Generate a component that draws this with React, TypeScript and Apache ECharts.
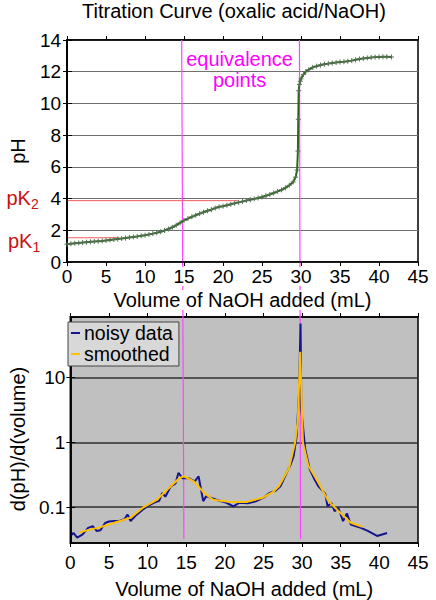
import React, { useEffect, useRef } from "react";
import * as echarts from "echarts";

const FONT = '"Liberation Sans", Arial, Helvetica, sans-serif';

// ---- Titration curve (pH vs volume) ----
const phVolume = [
  0, 0.5, 1, 1.5, 2, 2.5, 3, 3.5, 4, 4.5, 5, 5.5, 6, 6.5, 7, 7.5, 8, 8.5, 9, 9.5,
  10, 10.5, 11, 11.5, 12, 12.5, 13, 13.5, 14, 14.5, 15, 15.5, 16, 16.5, 17, 17.5,
  18, 18.5, 19, 19.5, 20, 20.5, 21, 21.5, 22, 22.5, 23, 23.5, 24, 24.5, 25, 25.5,
  26, 26.5, 27, 27.5, 28, 28.5, 29, 29.3, 29.5, 29.6, 29.65, 29.7, 29.8, 29.9, 30,
  30.3, 30.6, 31, 31.5, 32, 32.5, 33, 33.5, 34, 34.5, 35, 35.5, 36, 36.5, 37, 37.5,
  38, 38.5, 39, 39.5, 40, 40.5, 41, 41.6,
];
const phValues = [
  1.12, 1.15, 1.18, 1.2, 1.23, 1.25, 1.27, 1.29, 1.31, 1.33, 1.36, 1.39, 1.42, 1.45, 1.48, 1.51, 1.55, 1.58, 1.61, 1.65,
  1.69, 1.74, 1.79, 1.85, 1.91, 1.99, 2.08, 2.19, 2.32, 2.47, 2.62, 2.74, 2.85, 2.95, 3.05, 3.14,
  3.23, 3.3, 3.4, 3.48, 3.52, 3.58, 3.64, 3.7, 3.76, 3.82, 3.88, 3.93, 3.98, 4.04, 4.1, 4.18,
  4.26, 4.35, 4.45, 4.55, 4.68, 4.84, 5.05, 5.35, 5.8, 7.0, 9.0, 10.8, 11.2, 11.4, 11.55,
  11.82, 12.0, 12.13, 12.27, 12.35, 12.42, 12.47, 12.51, 12.55, 12.58, 12.61, 12.63, 12.66, 12.7, 12.75, 12.8,
  12.84, 12.87, 12.9, 12.92, 12.93, 12.94, 12.94, 12.93,
];

// pK annotations
const pkNames = ["1", "2"];
const pkValues = [1.53, 3.87];
const pkEnds = [6.7, 21.9];
const pkStart = -2.9;

// equivalence points (mL)
const eqVolumes = [14.7, 29.8];

// ---- Derivative (log scale) ----
const noisyVolume = [
  0, 0.4, 0.9, 1.6, 2.3, 2.9, 3.4, 3.9, 4.5, 5.0, 5.7, 6.4, 7.0, 7.4, 7.8, 8.4, 9.4, 10.2, 10.8, 11.5,
  11.9, 12.3, 13.0, 13.6, 14.0, 14.5, 15.3, 16.1, 16.6, 17.2, 17.6, 18.9, 20.2, 21.1, 21.9, 23.0, 24.0,
  25.0, 25.8, 26.6, 27.2, 28.0, 28.5, 28.9, 29.3, 29.6, 29.8, 29.9, 30.4, 31.0, 31.6, 32.1, 32.7, 33.0,
  33.3, 33.8, 34.2, 34.7, 35.3, 35.8, 36.3, 37.6, 38.5, 39.7, 41.0,
];
const noisyValues = [
  0.036, 0.04, 0.034, 0.038, 0.048, 0.051, 0.043, 0.044, 0.057, 0.06, 0.061, 0.062, 0.065, 0.077, 0.061, 0.073, 0.092, 0.107, 0.117, 0.125,
  0.166, 0.145, 0.21, 0.23, 0.34, 0.28, 0.28, 0.25, 0.3, 0.124, 0.148, 0.13, 0.117, 0.103, 0.117, 0.115, 0.123,
  0.14, 0.166, 0.18, 0.21, 0.34, 0.45, 0.61, 1.28, 5.8, 68, 3.2, 0.79, 0.38, 0.27, 0.21, 0.177, 0.16,
  0.103, 0.116, 0.087, 0.097, 0.061, 0.08, 0.054, 0.048, 0.043, 0.036, 0.04,
];
const smoothVolume = [
  1.2, 2.5, 3.6, 5.7, 7.8, 9.4, 11.2, 13.0, 14.1, 14.7, 16.0, 17.3, 18.5, 20.7, 22.8, 24.9, 26.2, 27.0,
  28.3, 29.1, 29.45, 29.75, 30.1, 30.8, 32.1, 33.4, 34.7, 36.3, 37.8,
];
const smoothValues = [
  0.041, 0.045, 0.048, 0.0575, 0.069, 0.098, 0.13, 0.21, 0.28, 0.3, 0.25, 0.166, 0.13, 0.12, 0.12, 0.14, 0.17, 0.21,
  0.4, 1.0, 2.2, 25, 1.0, 0.44, 0.24, 0.124, 0.087, 0.0575, 0.05,
];

const zip = (xs: number[], ys: number[]) => xs.map((x, i) => [x, ys[i]]);

const labelFont = { fontFamily: FONT, fontSize: 19, color: "#000" };
const nameFont = { fontFamily: FONT, fontSize: 20, color: "#000" };

function xAxis(gridIndex: number, position: string, withLabels: boolean, margin: number, nameGap: number) {
  return {
    type: "value",
    gridIndex,
    position,
    min: 0,
    max: 45,
    interval: 5,
    z: withLabels ? 3 : 0,
    axisLine: { show: true, onZero: false, lineStyle: { color: "#000", width: 1.5 } },
    axisTick: { show: true, inside: false, length: 4, lineStyle: { color: "#000", width: 1 } },
    splitLine: { show: false },
    axisLabel: withLabels
      ? { show: true, margin, ...labelFont, backgroundColor: gridIndex === 0 ? "#fff" : "transparent", padding: [0, 1] }
      : { show: false },
    name: withLabels ? "Volume of NaOH added (mL)" : "",
    nameLocation: "middle",
    nameGap,
    nameTextStyle: { ...nameFont, backgroundColor: gridIndex === 0 ? "#fff" : "transparent", padding: [0, 2] },
  };
}

export default function App() {
  const ref = useRef<HTMLDivElement>(null);
  useEffect(() => {
    if (!ref.current) return;
    const chart = echarts.init(ref.current, null, { renderer: "svg" });

    const option: any = {
      animation: false,
      textStyle: { fontFamily: FONT },
      grid: [
        { left: 65, top: 40, width: 353, height: 222, show: true, backgroundColor: "#fff", borderColor: "#000", borderWidth: 1.5 },
        { left: 65, top: 317, width: 353, height: 227, show: true, backgroundColor: "#c0c0c0", borderColor: "#000", borderWidth: 1.5 },
      ],
      xAxis: [
        xAxis(0, "bottom", true, 5, 28),
        xAxis(0, "top", false, 6, 0),
        xAxis(1, "bottom", true, 10, 36),
        xAxis(1, "top", false, 6, 0),
      ],
      yAxis: [
        {
          type: "value", gridIndex: 0, position: "left", min: 0, max: 14, interval: 2, z: 3,
          axisLine: { show: true, lineStyle: { color: "#000", width: 1.5 } },
          axisTick: { show: true, inside: false, length: 4, lineStyle: { color: "#000" } },
          splitLine: { show: false },
          axisLabel: { margin: 5, ...labelFont, backgroundColor: "#fff", padding: [0, 1] },
          name: "pH", nameLocation: "middle", nameGap: 28, nameTextStyle: nameFont,
        },
        {
          type: "value", gridIndex: 0, position: "right", min: 0, max: 14, interval: 2,
          axisLine: { show: true, lineStyle: { color: "#000", width: 1.5 } },
          axisTick: { show: true, inside: false, length: 5, lineStyle: { color: "#000" } },
          splitLine: { show: true, lineStyle: { color: "#707070", width: 1 } },
          axisLabel: { show: false },
        },
        {
          type: "log", logBase: 10, gridIndex: 1, position: "left", min: 0.028, max: 86, z: 3,
          axisLine: { show: true, lineStyle: { color: "#000", width: 1.5 } },
          axisTick: { show: true, inside: false, length: 4, lineStyle: { color: "#000" } },
          minorTick: { show: false },
          splitLine: { show: false },
          axisLabel: { margin: 5, ...labelFont, showMinLabel: false, showMaxLabel: false },
          name: "d(pH)/d(volume)", nameLocation: "middle", nameGap: 37,
          nameTextStyle: { ...nameFont, padding: [0, 18, 0, 0] },
        },
        {
          type: "log", logBase: 10, gridIndex: 1, position: "right", min: 0.028, max: 86,
          axisLine: { show: true, lineStyle: { color: "#000", width: 1.5 } },
          axisTick: { show: true, inside: false, length: 5, lineStyle: { color: "#000" } },
          minorTick: { show: false },
          splitLine: { show: true, lineStyle: { color: "#303030", width: 1.5 } },
          axisLabel: { show: false },
        },
      ],
      legend: {
        data: ["noisy data", "smoothed"],
        orient: "vertical",
        left: 68,
        top: 322,
        backgroundColor: "#d8d8d8",
        borderColor: "#444",
        borderWidth: 1,
        borderRadius: 0,
        padding: [1, 6, 2, 3],
        itemGap: 1,
        itemWidth: 9,
        itemHeight: 2,
        icon: "rect",
        textStyle: { fontFamily: FONT, fontSize: 19.5, color: "#000", padding: [0, 0, 0, -1] },
      },
      series: [
        {
          type: "line",
          name: "pH",
          xAxisIndex: 0,
          yAxisIndex: 0,
          data: zip(phVolume, phValues),
          symbol: "path://M0 5L10 5M5 0L5 10",
          symbolSize: 5,
          itemStyle: { color: "#557055", borderColor: "#557055", borderWidth: 1 },
          lineStyle: { color: "#2a661a", width: 2 },
          z: 4,
        },
        ...pkValues.map((v, i) => ({
          type: "line",
          name: "pK" + pkNames[i],
          xAxisIndex: 0,
          yAxisIndex: 0,
          data: [[pkStart, v], [pkEnds[i], v]],
          clip: false,
          symbol: "none",
          silent: true,
          lineStyle: { color: "#ee6060", width: 1 },
          z: 2,
        })),
        {
          type: "line",
          name: "noisy data",
          xAxisIndex: 2,
          yAxisIndex: 2,
          data: zip(noisyVolume, noisyValues),
          symbol: "none",
          itemStyle: { color: "#14148c" },
          lineStyle: { color: "#14148c", width: 2 },
          z: 2,
        },
        {
          type: "line",
          name: "smoothed",
          xAxisIndex: 2,
          yAxisIndex: 2,
          data: zip(smoothVolume, smoothValues),
          symbol: "none",
          itemStyle: { color: "#ffc000" },
          lineStyle: { color: "#ffc000", width: 2 },
          z: 3,
        },
      ],
    };
    chart.setOption(option);

    const noisyIdx = 1 + pkValues.length;
    const graphics: any[] = [];
    eqVolumes.forEach((v) => {
      const p1 = chart.convertToPixel({ seriesIndex: 0 }, [v, 14]) as number[];
      const p2 = chart.convertToPixel({ seriesIndex: noisyIdx }, [v, 0.0325]) as number[];
      graphics.push({
        type: "line", z: 1, silent: true,
        shape: { x1: p1[0], y1: p1[1], x2: p2[0], y2: p2[1] },
        style: { stroke: "#ff44ff", lineWidth: 1.2 },
      });
    });
    const mid = chart.convertToPixel({ seriesIndex: 0 }, [(eqVolumes[0] + eqVolumes[1]) / 2, 14]) as number[];
    graphics.push({
      type: "text", z: 5, x: mid[0] - 1, y: 58.7,
      style: { text: "equivalence", fill: "#ff00ff", font: `20px ${FONT}`, align: "center", verticalAlign: "middle" },
    });
    graphics.push({
      type: "text", z: 5, x: mid[0] - 1, y: 80.3,
      style: { text: "points", fill: "#ff00ff", font: `20px ${FONT}`, align: "center", verticalAlign: "middle" },
    });
    graphics.push({
      type: "text", z: 5, x: 234, y: 11,
      style: { text: "Titration Curve (oxalic acid/NaOH)", fill: "#000", font: `20px ${FONT}`, align: "center", verticalAlign: "middle" },
    });
    const pkDy = [3, -2.5];
    const pkX = [8, 6.5];
    pkValues.forEach((v, i) => {
      const p = chart.convertToPixel({ seriesIndex: 0 }, [0, v]) as number[];
      graphics.push({
        type: "text", z: 5, x: pkX[i], y: p[1] + pkDy[i],
        style: { text: "pK", fill: "#cc1111", font: `20px ${FONT}`, align: "left", verticalAlign: "middle" },
      });
      graphics.push({
        type: "text", z: 5, x: pkX[i] + 24.5, y: p[1] + pkDy[i] + 6,
        style: { text: pkNames[i], fill: "#cc1111", font: `14px ${FONT}`, align: "left", verticalAlign: "middle" },
      });
    });
    chart.setOption({ graphic: graphics });

    return () => chart.dispose();
  }, []);

  return <div ref={ref} style={{ position: "absolute", left: 0, top: 0, width: 436, height: 600 }} />;
}
